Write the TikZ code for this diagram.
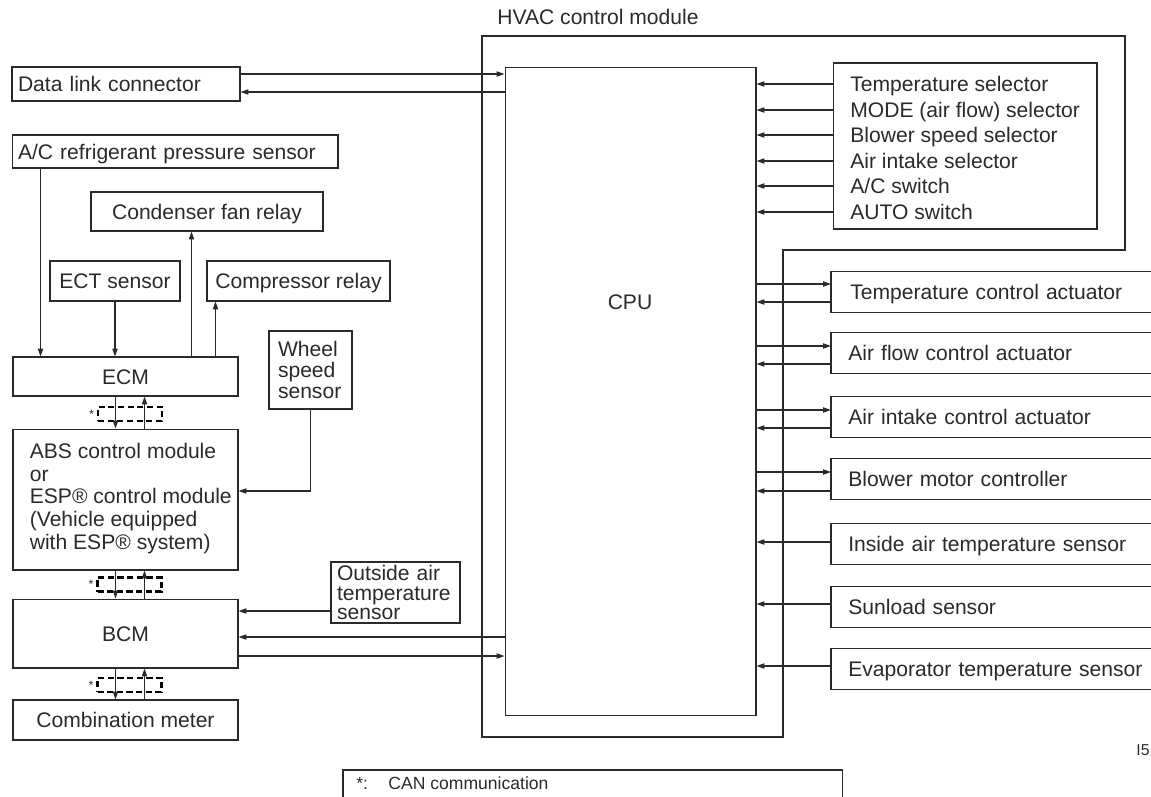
\documentclass[tikz,border=0pt]{standalone}
\usepackage{fontspec}
\setmainfont{Liberation Sans}
\usepackage{xcolor}
\usetikzlibrary{positioning,arrows.meta,calc}
\definecolor{ink}{HTML}{2A2A2A}
\tikzset{
  plain/.style  = {draw=ink, line width=0.6pt, text=ink, align=center,
                   font=\fontsize{12}{13}\selectfont, inner sep=0pt},
  box/.style    = {plain, text height=10.4pt, text depth=1.8pt},
  lbox/.style   = {box, align=left},
  mbox/.style   = {plain, align=left},
  rbox/.style   = {text=ink, font=\fontsize{12}{13}\selectfont, anchor=west,
                   align=left, text width=6.06cm, inner xsep=0pt,
                   minimum height=0.8cm, text height=10.4pt, text depth=1.8pt},
  txt/.style    = {text=ink, font=\fontsize{12}{13}\selectfont, inner sep=0pt},
  seltxt/.style = {txt, anchor=west, text height=10.4pt, text depth=1.8pt},
  can/.style    = {draw=black, line width=1.2pt, dash pattern=on 3.5pt off 2pt,
                   minimum width=1.28cm, minimum height=0.28cm, inner sep=0pt,
                   label={[text=ink, font=\scriptsize, inner sep=1.5pt]left:*}},
  sig/.style    = {-{Triangle[length=4.5pt,width=3pt]}, draw=ink, line width=0.6pt},
  wire/.style   = {draw=ink, line width=0.6pt},
}

\begin{document}
\begin{tikzpicture}[x=0.02cm, y=-0.02cm]
  \useasboundingbox (0,0) rectangle (1151,796);

  % HVAC control module
  \node[txt, anchor=base west] (hvac) at (497,24) {HVAC control module};
  \draw[wire] (482,36) -| (1125,250) -| (783,737) -| cycle;
  \node[box, minimum width=5.02cm, minimum height=12.98cm] (cpu) at (630.5,391.5) {};
  \node[txt] (cpulbl) at (630,302) {CPU};

  % selectors
  \node[box, minimum width=5.28cm, minimum height=3.32cm] (sel) at (965,146) {};
  \node[seltxt] (s1) at (850,84)  {Temperature selector};
  \node[seltxt] (s2) at (850,110) {MODE (air flow) selector};
  \node[seltxt] (s3) at (850,135) {Blower speed selector};
  \node[seltxt] (s4) at (850,161) {Air intake selector};
  \node[seltxt] (s5) at (850,186) {A/C switch};
  \node[seltxt] (s6) at (850,212) {AUTO switch};
  \draw[sig] (sel.west |- s1) -- (cpu.east |- s1);
  \draw[sig] (sel.west |- s2) -- (cpu.east |- s2);
  \draw[sig] (sel.west |- s3) -- (cpu.east |- s3);
  \draw[sig] (sel.west |- s4) -- (cpu.east |- s4);
  \draw[sig] (sel.west |- s5) -- (cpu.east |- s5);
  \draw[sig] (sel.west |- s6) -- (cpu.east |- s6);

  % actuators and sensors on the right
  \node[rbox] (tca) at (850,292) {Temperature control actuator};
  \node[rbox] (afa) at (848,353) {Air flow control actuator};
  \node[rbox] (aia) at (848,417) {Air intake control actuator};
  \node[rbox] (bmc) at (848,479) {Blower motor controller};
  \node[rbox] (ias) at (848,544) {Inside air temperature sensor};
  \node[rbox] (sls) at (848,607) {Sunload sensor};
  \node[rbox] (evs) at (848,669) {Evaporator temperature sensor};
  \draw[wire] (tca.north east) -- ($(tca.north west)+(-19,0)$) |- (tca.south east);
  \draw[wire] (afa.north east) -- ($(afa.north west)+(-17,0)$) |- (afa.south east);
  \draw[wire] (aia.north east) -- ($(aia.north west)+(-17,0)$) |- (aia.south east);
  \draw[wire] (bmc.north east) -- ($(bmc.north west)+(-17,0)$) |- (bmc.south east);
  \draw[wire] (ias.north east) -- ($(ias.north west)+(-17,0)$) |- (ias.south east);
  \draw[wire] (sls.north east) -- ($(sls.north west)+(-17,0)$) |- (sls.south east);
  \draw[wire] (evs.north east) -- ($(evs.north west)+(-17,0)$) |- (evs.south east);

  \draw[sig] ($(cpu.east |- tca.west)+(0,-8)$) -- ($(tca.west)+(-19,-8)$);
  \draw[sig] ($(tca.west)+(-19,10)$) -- ($(cpu.east |- tca.west)+(0,10)$);
  \draw[sig] ($(cpu.east |- afa.west)+(0,-7)$) -- ($(afa.west)+(-17,-7)$);
  \draw[sig] ($(afa.west)+(-17,11)$) -- ($(cpu.east |- afa.west)+(0,11)$);
  \draw[sig] ($(cpu.east |- aia.west)+(0,-7)$) -- ($(aia.west)+(-17,-7)$);
  \draw[sig] ($(aia.west)+(-17,11)$) -- ($(cpu.east |- aia.west)+(0,11)$);
  \draw[sig] ($(cpu.east |- bmc.west)+(0,-7)$) -- ($(bmc.west)+(-17,-7)$);
  \draw[sig] ($(bmc.west)+(-17,12)$) -- ($(cpu.east |- bmc.west)+(0,12)$);
  \draw[sig] ($(ias.west)+(-17,-2)$) -- ($(cpu.east |- ias.west)+(0,-2)$);
  \draw[sig] ($(sls.west)+(-17,-3)$) -- ($(cpu.east |- sls.west)+(0,-3)$);
  \draw[sig] ($(evs.west)+(-17,-3)$) -- ($(cpu.east |- evs.west)+(0,-3)$);

  % left column
  \node[lbox, minimum width=4.56cm, text width=4.32cm, inner xsep=0.12cm,
        minimum height=0.68cm] (dlc) at (126,84) {Data link connector};
  \node[lbox, minimum width=6.52cm, text width=6.28cm, inner xsep=0.12cm,
        minimum height=0.66cm] (acp) at (175,151.5) {A/C refrigerant pressure sensor};
  \node[box, minimum width=4.64cm, minimum height=0.78cm] (cfr) at (207,211.5) {Condenser fan relay};
  \node[box, minimum width=2.6cm, minimum height=0.8cm] (ect) at (115,281) {ECT sensor};
  \node[box, minimum width=3.66cm, minimum height=0.8cm] (cpr) at (298.5,281) {Compressor relay};
  \node[box, minimum width=4.5cm, minimum height=0.78cm] (ecm) at (125.5,376.5) {ECM};
  \node[mbox, minimum width=1.66cm, text width=1.3cm, inner xsep=0.18cm,
        minimum height=1.56cm, font=\fontsize{12}{12}\selectfont] (wss) at (310.5,370) {Wheel\\speed\\sensor};
  \node[box, minimum width=4.5cm, minimum height=2.82cm] (abs) at (125.5,499.5) {};
  \node[txt, align=left, anchor=west] (abstxt) at ($(abs.west)+(17,-1)$)
        {ABS control module\\or\\ESP\textregistered\ control module\\(Vehicle equipped\\with ESP\textregistered\ system)};
  \node[mbox, minimum width=2.58cm, text width=2.34cm, inner xsep=0.12cm,
        minimum height=1.22cm, font=\fontsize{12}{11.2}\selectfont] (oat) at (395.5,592.5) {Outside air\\temperature\\sensor};
  \node[box, minimum width=4.5cm, minimum height=1.38cm] (bcm) at (125.5,633.5) {BCM};
  \node[box, minimum width=4.5cm, minimum height=0.8cm] (cmt) at (125.5,720) {Combination meter};

  % CAN lines
  \node[can] (can1) at (130,414) {};
  \node[can] (can2) at (129.5,584.5) {};
  \node[can] (can3) at (129.5,685) {};
  \draw[sig] ($(ecm.south west)+(103,0)$) -- ($(abs.north west)+(103,0)$);
  \draw[sig] ($(abs.north west)+(132,0)$) -- ($(ecm.south west)+(132,0)$);
  \draw[sig] ($(abs.south west)+(103,0)$) -- ($(bcm.north west)+(103,0)$);
  \draw[sig] ($(bcm.north west)+(132,0)$) -- ($(abs.south west)+(132,0)$);
  \draw[sig] ($(bcm.south west)+(103,0)$) -- ($(cmt.north west)+(103,0)$);
  \draw[sig] ($(cmt.north west)+(132,0)$) -- ($(bcm.south west)+(132,0)$);

  % ECM wiring
  \coordinate (acpfoot) at ($(acp.south west)+(29,0)$);
  \coordinate (cfrfoot) at ($(ecm.north west)+(179,0)$);
  \coordinate (cprfoot) at ($(ecm.north west)+(203,0)$);
  \draw[sig] (acpfoot) -- (acpfoot |- ecm.north);
  \draw[sig] (ect.south) -- (ect.south |- ecm.north);
  \draw[sig] (cfrfoot) -- (cfrfoot |- cfr.south);
  \draw[sig] (cprfoot) -- (cprfoot |- cpr.south);

  \coordinate (absin) at ($(abs.east)+(0,-8.5)$);
  \draw[sig] (wss.south) |- (absin);
  \coordinate (oatout) at ($(oat.west)+(0,18.5)$);
  \draw[sig] (oatout) -- (oatout -| bcm.east);

  % links to the CPU
  \coordinate (dlcout) at ($(dlc.east)+(0,-10)$);
  \coordinate (dlcin) at ($(dlc.east)+(0,8)$);
  \draw[sig] (dlcout) -- (dlcout -| cpu.west);
  \draw[sig] (dlcin -| cpu.west) -- (dlcin);
  \coordinate (bcmin) at ($(bcm.east)+(0,3.5)$);
  \coordinate (bcmout) at ($(bcm.east)+(0,22.5)$);
  \draw[sig] (bcmin -| cpu.west) -- (bcmin);
  \draw[sig] (bcmout) -- (bcmout -| cpu.west);

  % legend
  \node[draw=ink, line width=0.9pt, anchor=north west, minimum width=10cm,
        minimum height=0.8cm, inner sep=0pt] (legend) at (342,769) {};
  \node[txt, anchor=west, font=\fontsize{10}{11}\selectfont] (legstar) at (356,783) {*:};
  \node[txt, anchor=west, font=\fontsize{10}{11}\selectfont] (legtxt) at (388,783) {CAN communication};
  \node[txt, font=\fontsize{9}{10}\selectfont] (figid) at (1143,750) {I5};
\end{tikzpicture}
\end{document}
